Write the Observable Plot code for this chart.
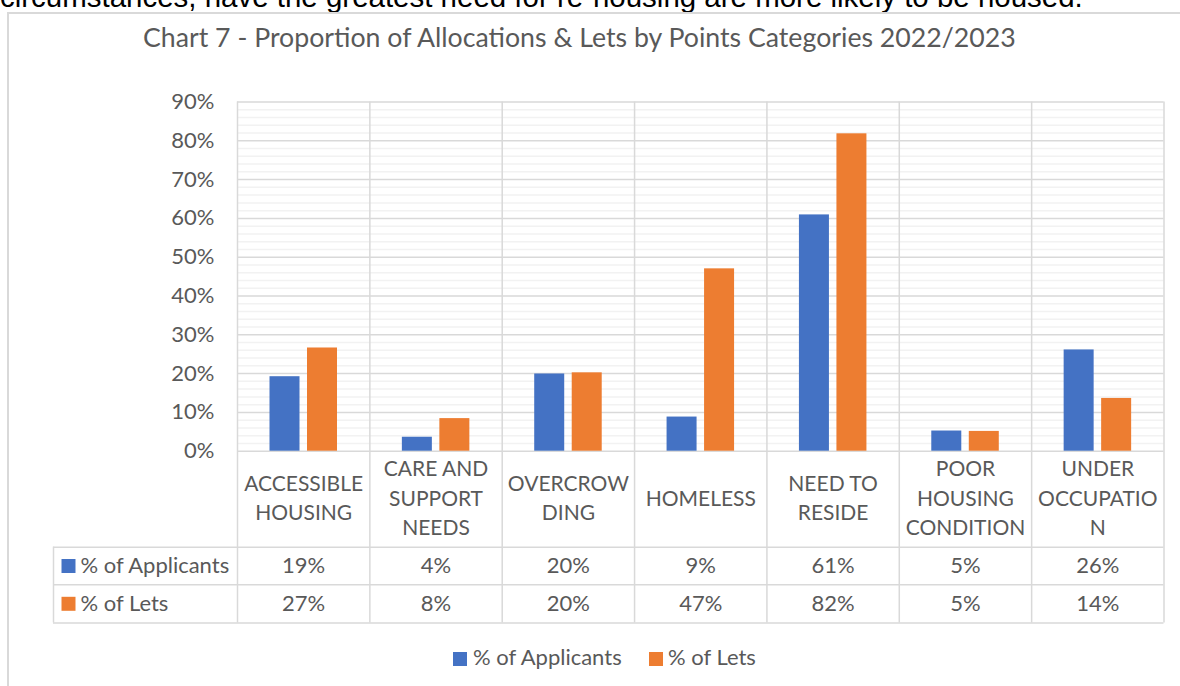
<!DOCTYPE html>
<html>
<head>
<meta charset="utf-8">
<script src="https://cdn.jsdelivr.net/npm/d3@7"></script>
<script src="https://cdn.jsdelivr.net/npm/@observablehq/plot@0.6"></script>
<style>
  html, body { margin: 0; padding: 0; background: #fff; width: 1180px; height: 686px; overflow: hidden; }
  #page { position: relative; width: 1180px; height: 686px; overflow: hidden; }
  #lead { position: absolute; left: 0; white-space: nowrap; font-family: "Liberation Sans", Arial, sans-serif; color: #000; line-height: 1; }
  #box { position: absolute; left: 7px; top: 12px; width: 1250px; height: 760px; border: 2px solid #d9d9d9; box-sizing: border-box; }
  #title { position: absolute; white-space: nowrap; font-family: Lato, sans-serif; color: #595959; line-height: 1; }
  #chart { position: absolute; left: 0; top: 60px; }
  .key { position: absolute; width: 14px; height: 14px; }
  .ltxt { position: absolute; font-family: Lato, sans-serif; font-size: 22px; color: #595959; line-height: 1; white-space: nowrap; }
</style>
</head>
<body>
<div id="page">
  <div id="lead"></div>
  <div id="box"></div>
  <div id="title"></div>
  <div id="chart"></div>
  <div id="legend"></div>
</div>
<script>
// ---- data ----
const categories = ["ACCESSIBLE HOUSING", "CARE AND SUPPORT NEEDS", "OVERCROWDING", "HOMELESS", "NEED TO RESIDE", "POOR HOUSING CONDITION", "UNDER OCCUPATION"];
const categoryLabels = ["ACCESSIBLE\nHOUSING", "CARE AND\nSUPPORT\nNEEDS", "OVERCROW\nDING", "HOMELESS", "NEED TO\nRESIDE", "POOR\nHOUSING\nCONDITION", "UNDER\nOCCUPATIO\nN"];
const applicants = [19.2, 3.6, 19.9, 8.8, 60.9, 5.2, 26.1];
const lets = [26.6, 8.4, 20.2, 47.0, 81.8, 5.1, 13.6];
const seriesNames = ["% of Applicants", "% of Lets"];
const seriesColors = ["#4472C4", "#ED7D31"];
const yTicks = [0, 10, 20, 30, 40, 50, 60, 70, 80, 90];
const yMinorTicks = [2, 4, 6, 8, 12, 14, 16, 18, 22, 24, 26, 28, 32, 34, 36, 38, 42, 44, 46, 48, 52, 54, 56, 58, 62, 64, 66, 68, 72, 74, 76, 78, 82, 84, 86, 88];
const titleText = "Chart 7 - Proportion of Allocations & Lets by Points Categories 2022/2023";
const leadText = "circumstances, have the greatest need for re-housing are more likely to be housed.";

const rows = categories.map((c, i) => ({cat: c, label: categoryLabels[i], app: applicants[i], lets: lets[i]}));

// ---- text fitting helpers ----
const ctx = document.createElement("canvas").getContext("2d");
function fitSize(text, family, target) {
  ctx.font = `100px ${family}`;
  return 100 * target / ctx.measureText(text).width;
}

// lead (cropped paragraph text above the chart)
const lead = document.getElementById("lead");
lead.textContent = leadText;
const leadSize = fitSize(leadText, '"Liberation Sans"', 1083);
lead.style.fontSize = leadSize + "px";
lead.style.top = (7 - 0.8465 * leadSize) + "px";

// title
const title = document.getElementById("title");
title.textContent = titleText;
const titleSize = fitSize(titleText, "Lato", 875);
title.style.fontSize = titleSize + "px";
title.style.left = (580.5 - 875 / 2) + "px";
title.style.top = (48 - 0.887 * titleSize) + "px";

// ---- chart ----
const W = 1180, H = 580, ML = 237, MR = 16.5, MT = 41.5, MB = 189.3;
const bw = (W - ML - MR) / categories.length;
const grid = "#d9d9d9", minor = "#f2f2f2", ink = "#595959";
const rowHeader = 45, rowApp = 114.8, rowLets = 152.6;
const line1 = 96, line2 = 133.6, line3 = 171.8;

const plot = Plot.plot({
  width: W, height: H,
  marginLeft: ML, marginRight: MR, marginTop: MT, marginBottom: MB,
  style: {fontFamily: "Lato, sans-serif", fontSize: "22px", color: ink, background: "transparent", overflow: "visible"},
  x: {type: "band", domain: categories, padding: 0, round: false, axis: null},
  y: {domain: [0, 90], ticks: yTicks, tickFormat: d => d + "%", tickSize: 0, tickPadding: 23, label: null},
  marks: [
    Plot.ruleY(yMinorTicks, {stroke: minor, strokeWidth: 1.5}),
    Plot.ruleY(yTicks, {stroke: grid, strokeWidth: 1.5}),
    // category separators, extended down through the data table
    Plot.ruleX(categories, {x: d => d, dx: -bw / 2, stroke: grid, strokeWidth: 1.5, insetBottom: -line3}),
    Plot.ruleX([categories[categories.length - 1]], {x: d => d, dx: bw / 2, stroke: grid, strokeWidth: 1.5, insetBottom: -line3}),
    // table horizontal lines
    Plot.ruleY([0], {dy: line1, insetLeft: -(ML - 53), stroke: grid, strokeWidth: 1.5}),
    Plot.ruleY([0], {dy: line2, insetLeft: -(ML - 53), stroke: grid, strokeWidth: 1.5}),
    Plot.ruleY([0], {dy: line3, insetLeft: -(ML - 53), stroke: grid, strokeWidth: 1.5}),
    Plot.ruleX([categories[0]], {x: d => d, dx: -bw / 2 - (ML - 53), insetTop: (H - MB - MT) + line1, insetBottom: -line3, stroke: grid, strokeWidth: 1.5}),
    // bars
    Plot.barY(rows, {x: "cat", y: "app", fill: seriesColors[0], insetLeft: 32.5, insetRight: bw - 62.5}),
    Plot.barY(rows, {x: "cat", y: "lets", fill: seriesColors[1], insetLeft: 70, insetRight: bw - 100}),
    // data table: category header row
    Plot.text(rows, {x: "cat", text: "label", frameAnchor: "bottom", dy: rowHeader, lineAnchor: "middle", lineHeight: 29.6 / 21, fontSize: 21, fill: ink}),
    // data table: value rows
    Plot.text(rows, {x: "cat", text: d => Math.round(d.app) + "%", frameAnchor: "bottom", dy: rowApp, lineAnchor: "middle", fill: ink}),
    Plot.text(rows, {x: "cat", text: d => Math.round(d.lets) + "%", frameAnchor: "bottom", dy: rowLets, lineAnchor: "middle", fill: ink}),
    // row headers with legend keys
    Plot.dot([seriesNames[0]], {frameAnchor: "bottom-left", dx: 68 - ML, dy: rowApp, symbol: "square", r: 7.9, fill: seriesColors[0], stroke: null}),
    Plot.dot([seriesNames[1]], {frameAnchor: "bottom-left", dx: 68 - ML, dy: rowLets, symbol: "square", r: 7.9, fill: seriesColors[1], stroke: null}),
    Plot.text([seriesNames[0]], {text: d => d, frameAnchor: "bottom-left", dx: 80 - ML, dy: rowApp, lineAnchor: "middle", textAnchor: "start", fill: ink}),
    Plot.text([seriesNames[1]], {text: d => d, frameAnchor: "bottom-left", dx: 80 - ML, dy: rowLets, lineAnchor: "middle", textAnchor: "start", fill: ink})
  ]
});
document.getElementById("chart").appendChild(plot);

// ---- legend ----
const legend = document.getElementById("legend");
const legendPos = [{key: 453, text: 473}, {key: 649, text: 668}];
seriesNames.forEach((name, i) => {
  const k = document.createElement("div");
  k.className = "key";
  k.style.left = legendPos[i].key + "px";
  k.style.top = "652px";
  k.style.background = seriesColors[i];
  legend.appendChild(k);
  const t = document.createElement("div");
  t.className = "ltxt";
  t.textContent = name;
  t.style.left = legendPos[i].text + "px";
  t.style.top = (666 - 0.887 * 22) + "px";
  legend.appendChild(t);
});
</script>
</body>
</html>
